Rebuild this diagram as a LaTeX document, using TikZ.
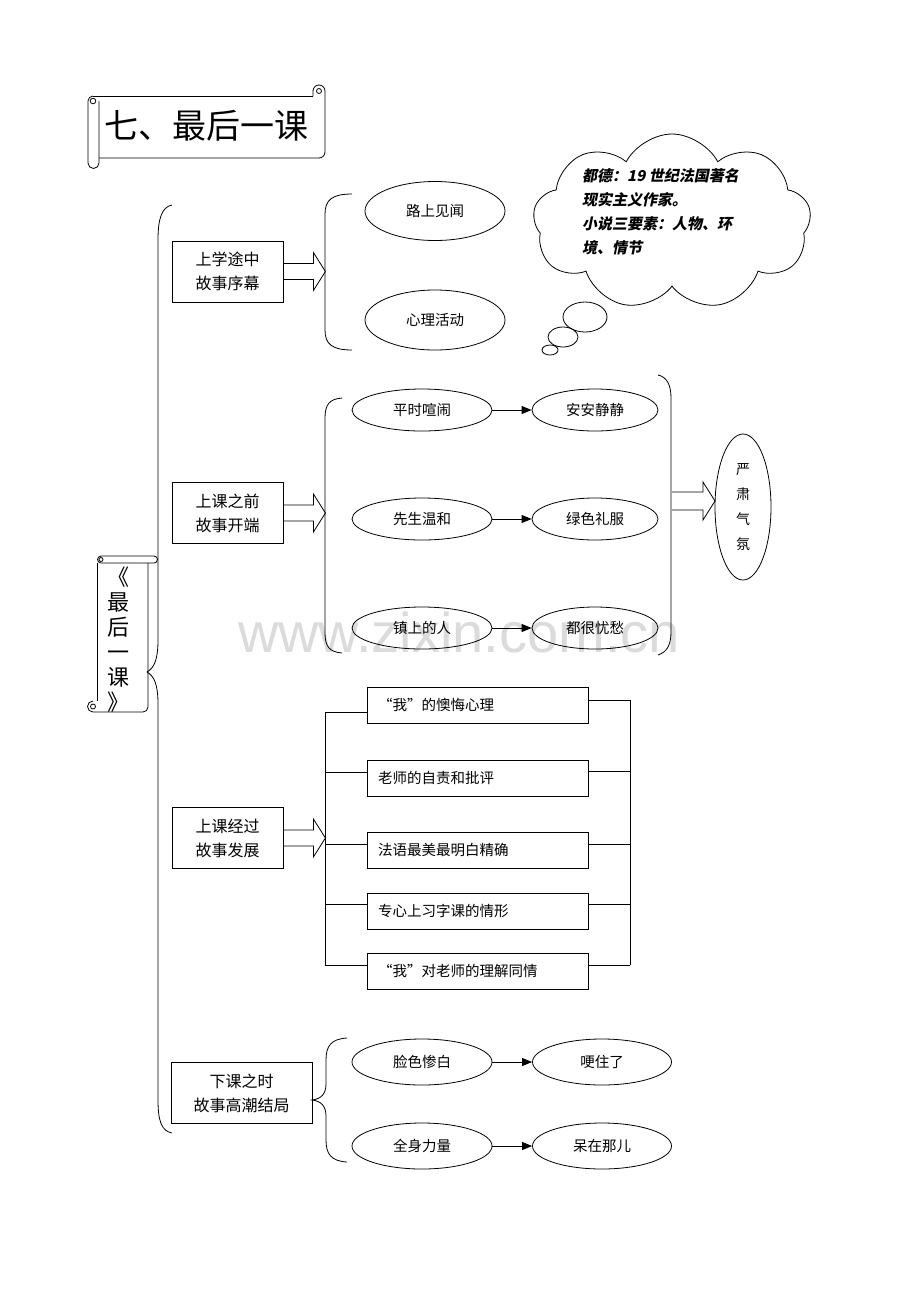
\documentclass[tikz,border=0pt]{standalone}
\usepackage{fontspec}
\setmainfont{Liberation Serif}
\newfontfamily\cjk{Noto Sans CJK SC}
\newfontfamily\cloudfont{Noto Sans CJK SC}[FakeSlant=0.2]
\newfontfamily\wmfont{Liberation Sans}
\usetikzlibrary{shapes.geometric,shapes.symbols,arrows.meta}
\begin{document}
\begin{tikzpicture}[x=1pt,y=-1pt,
  ln/.style={line width=0.8pt},
  secbox/.style={draw, line width=0.8pt, minimum width=111pt, minimum height=61pt, inner sep=0pt, align=center, font=\cjk\fontsize{16}{24}\selectfont},
  oval/.style={draw, ellipse, line width=0.8pt, inner sep=0pt, font=\cjk\fontsize{14.5}{17}\selectfont},
  listbox/.style={draw, line width=0.8pt, minimum width=221pt, minimum height=36pt, inner xsep=11pt, inner ysep=0pt, text width=199pt, align=left, font=\cjk\fontsize{14.5}{17}\selectfont},
  link/.style={line width=0.8pt, -{Triangle[length=10pt,width=8pt]}},
]
\useasboundingbox (0,0) rectangle (920,1302);
\fill[white] (0,0) rectangle (920,1302);

% watermark
\node[font=\wmfont\fontsize{56}{60}\selectfont, text=black!14, anchor=base, inner sep=0pt] (wm) at (459,652) {www.zixin.com.cn};

% title scroll
\draw[ln] (93,96) -- (313,96);
\draw[ln] (313,96) -- (313,91) arc(180:360:6) -- (325,152) arc(0:90:6) -- (99,158);
\draw[ln] (319,91) circle (2.5);
\draw[ln] (93,96) arc(270:180:5) -- (88,163) arc(180:0:5.5) -- (99,101);
\draw[ln] (93,101) circle (2.8);
\node[font=\cjk\fontsize{34}{40}\selectfont, inner sep=0pt] (title) at (206,126) {七、最后一课};

% vertical scroll
\draw[ln] (101,556) -- (154,556) arc(-90:90:3.5) -- (101,563);
\draw[ln] (101,556) arc(-90:-270:3.5);
\draw[ln] (101,559.5) circle (2);
\draw[ln] (97,563) -- (97,701);
\draw[ln] (148,563) -- (148,707) arc(0:90:5) -- (93,712) arc(90:270:5.5);
\draw[ln] (93,706.5) circle (2.5);
\node[font=\cjk\fontsize{22}{25}\selectfont, align=center, inner sep=0pt] (vt) at (118,640) {《\\最\\后\\一\\课\\》};

% main brace
\draw[ln] (172,205) .. controls (162,207) and (158,218) .. (158,240) -- (158,640)
  .. controls (158,660) and (154,668) .. (147,672)
  .. controls (154,676) and (158,684) .. (158,704) -- (158,1100)
  .. controls (158,1122) and (162,1131) .. (172,1133);

% section boxes
\node[secbox] (s1) at (227.5,271.5) {上学途中\\故事序幕};
\node[secbox] (s2) at (227.5,513) {上课之前\\故事开端};
\node[secbox] (s3) at (227.5,838) {上课经过\\故事发展};
\node[secbox, minimum width=141pt] (s4) at (241.5,1093) {下课之时\\故事高潮结局};

% block arrows
\foreach \s in {s1,s2,s3}{
  \draw[ln] (\s.east) ++(0,-8) -- ++(30,0) -- ++(0,-11) -- ++(12,19) -- ++(-12,19) -- ++(0,-11) -- ++(-30,0);
}
\coordinate (ba) at (672,501);
\draw[ln] (ba) ++(0,-9) -- ++(31,0) -- ++(0,-10) -- ++(12,19) -- ++(-12,19) -- ++(0,-10) -- ++(-31,0);

% section 1
\draw[ln] (352,194) .. controls (332,194) and (325,200) .. (325,214) -- (325,330) .. controls (325,344) and (332,350) .. (352,350);
\node[oval, minimum width=140pt, minimum height=59pt] (a1) at (435,211) {路上见闻};
\node[oval, minimum width=140pt, minimum height=60pt] (a2) at (435,320) {心理活动};

% cloud
\node[cloud, draw, line width=0.8pt, cloud puffs=9, cloud puff arc=125, aspect=1.6, minimum width=278pt, minimum height=176pt] (cloud) at (672,222) {};
\draw[ln] (585,317) ellipse (22 and 15);
\draw[ln] (563,337) ellipse (15 and 10);
\draw[ln] (550,350) ellipse (8 and 5);
\node[anchor=north west, align=left, inner sep=0pt, font=\cloudfont\bfseries\fontsize{15}{24}\selectfont] (ct) at (582,168) {都德：19 世纪法国著名\\现实主义作家。\\小说三要素：人物、环\\境、情节};

% section 2
\draw[ln] (342,398) .. controls (329,399) and (325,405) .. (325,418) -- (325,633) .. controls (325,646) and (329,652) .. (342,653);
\draw[ln] (658,375) .. controls (667,377) and (671,385) .. (671,398) -- (671,632) .. controls (671,645) and (667,652) .. (658,655);
\node[oval, minimum width=140pt, minimum height=42pt] (b1) at (422,410) {平时喧闹};
\node[oval, minimum width=126pt, minimum height=42pt] (c1) at (595,410) {安安静静};
\node[oval, minimum width=140pt, minimum height=42pt] (b2) at (422,519) {先生温和};
\node[oval, minimum width=126pt, minimum height=42pt] (c2) at (595,519) {绿色礼服};
\node[oval, minimum width=140pt, minimum height=42pt] (b3) at (422,628) {镇上的人};
\node[oval, minimum width=126pt, minimum height=42pt] (c3) at (595,628) {都很忧愁};
\draw[link] (b1) -- (c1);
\draw[link] (b2) -- (c2);
\draw[link] (b3) -- (c3);
\node[oval, minimum width=56pt, minimum height=146pt, align=center, font=\cjk\fontsize{14}{25}\selectfont] (yan) at (743,507) {严\\肃\\气\\氛};

% section 3
\node[listbox] (l1) at (477.5,705) {“我”的懊悔心理};
\node[listbox] (l2) at (477.5,778) {老师的自责和批评};
\node[listbox] (l3) at (477.5,850) {法语最美最明白精确};
\node[listbox] (l4) at (477.5,911) {专心上习字课的情形};
\node[listbox] (l5) at (477.5,971) {“我”对老师的理解同情};
\coordinate (p1) at (325,712);
\coordinate (p2) at (325,772);
\coordinate (p3) at (325,844);
\coordinate (p4) at (325,904);
\coordinate (p5) at (325,965);
\coordinate (q1) at (630,700);
\coordinate (q2) at (630,771);
\coordinate (q3) at (630,844);
\coordinate (q4) at (630,904);
\coordinate (q5) at (630,965);
\draw[ln] (p1) -- (p5);
\draw[ln] (q1) -- (q5);
\foreach \i in {1,...,5}{
  \draw[ln] (p\i) -- (p\i -| l\i.west);
  \draw[ln] (q\i) -- (q\i -| l\i.east);
}

% section 4
\draw[ln] (347,1038) .. controls (331,1039) and (326,1046) .. (326,1060) -- (326,1084)
  .. controls (326,1094) and (321,1099) .. (312,1100)
  .. controls (321,1101) and (326,1106) .. (326,1116) -- (326,1140)
  .. controls (326,1154) and (331,1161) .. (347,1162);
\node[oval, minimum width=140pt, minimum height=46pt] (d1) at (422,1062) {脸色惨白};
\node[oval, minimum width=139pt, minimum height=46pt] (e1) at (602,1062) {哽住了};
\node[oval, minimum width=140pt, minimum height=46pt] (d2) at (422,1146) {全身力量};
\node[oval, minimum width=139pt, minimum height=46pt] (e2) at (602,1146) {呆在那儿};
\draw[link] (d1) -- (e1);
\draw[link] (d2) -- (e2);
\end{tikzpicture}
\end{document}
